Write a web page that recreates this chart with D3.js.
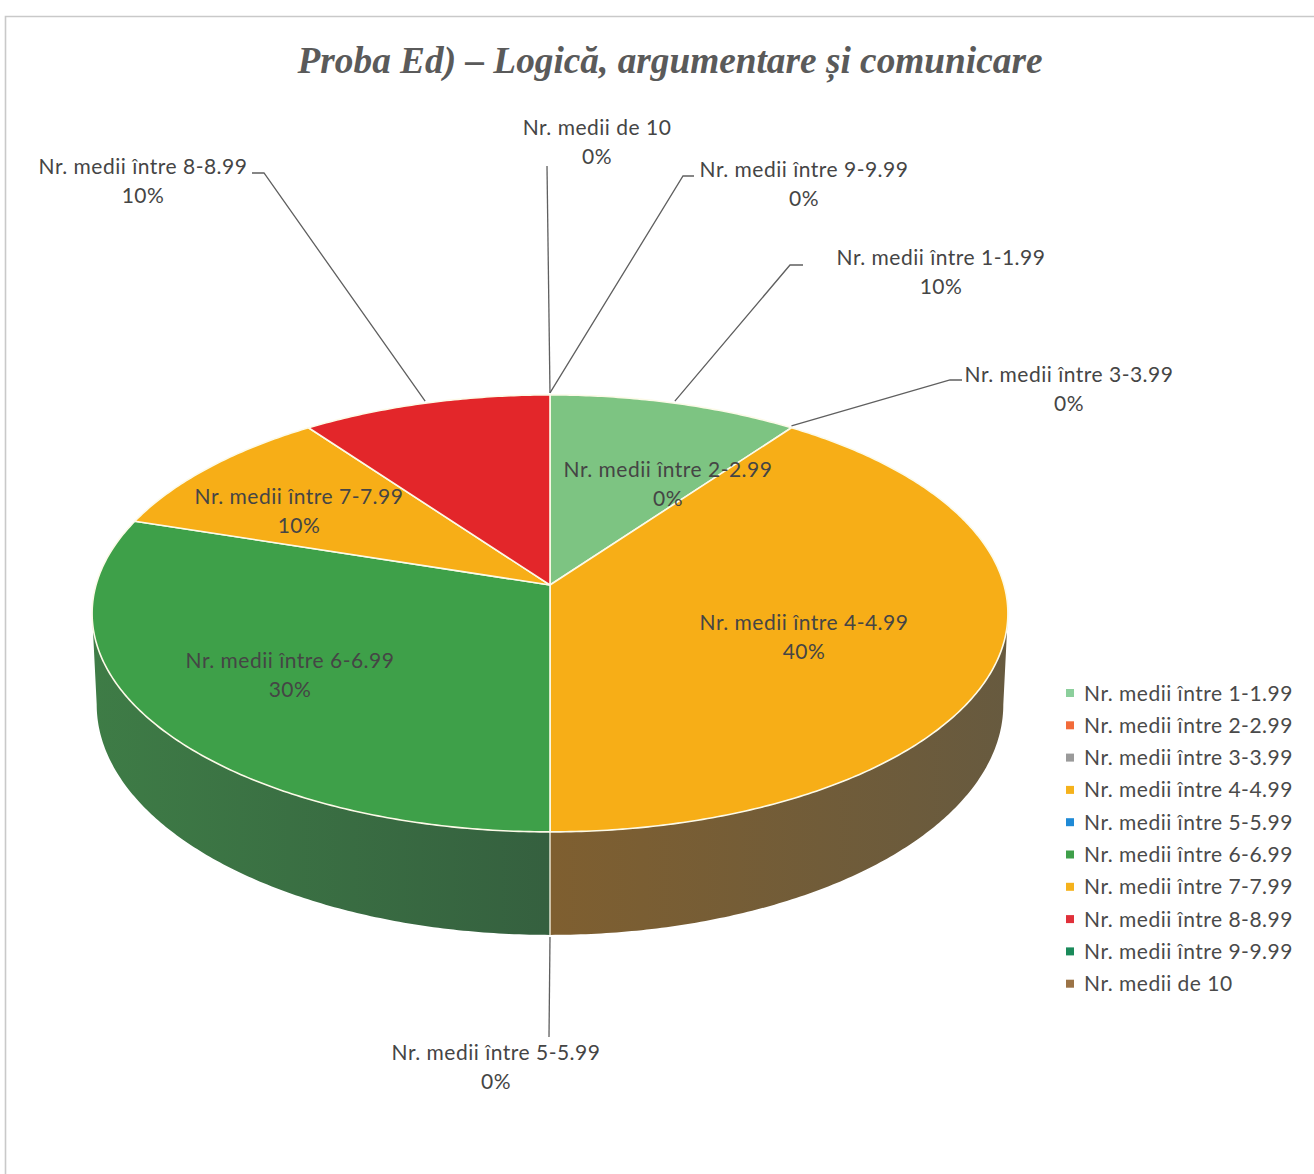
<!DOCTYPE html>
<html>
<head>
<meta charset="utf-8">
<script src="https://cdn.jsdelivr.net/npm/d3@7"></script>
<style>
  body { margin: 0; background: #fff; }
  svg { display: block; }
  .lbl { font-family: Lato, "Open Sans", sans-serif; font-size: 21px; letter-spacing: 0.5px; fill: #454545; }
  .legendText { font-family: Lato, "Open Sans", sans-serif; font-size: 21px; letter-spacing: 0.5px; fill: #4a4a4a; }
</style>
</head>
<body>
<svg id="svg-pie" width="1314" height="1174"></svg>
<script>
// data
var categories = ["Nr. medii între 1-1.99", "Nr. medii între 2-2.99", "Nr. medii între 3-3.99",
  "Nr. medii între 4-4.99", "Nr. medii între 5-5.99", "Nr. medii între 6-6.99",
  "Nr. medii între 7-7.99", "Nr. medii între 8-8.99", "Nr. medii între 9-9.99", "Nr. medii de 10"];
var percents = [10, 0, 0, 40, 0, 30, 10, 10, 0, 0];
var titleText = "Proba Ed) – Logică, argumentare și comunicare";

// styles
var sliceColors = ["#7dc482", "#f26b3a", "#9a9a9a", "#f7ae17", "#1f8ad6", "#3ea049", "#f7ae17", "#e3262a", "#1b8a5c", "#9b7346"];
var legendColors = ["#8ccf9c", "#f26b3a", "#9a9a9a", "#f5b21c", "#1f8ad6", "#3f9f4a", "#f5b21c", "#e0303a", "#1a8a5a", "#9b7346"];
// side walls (Excel paints the 4-4.99 wall brown)
var sideStops = { 3: ["#7f5f30", "#675a3f"], 5: ["#3e7c46", "#35603f"] };

// label layout: centre of the text block, optional leader polyline end (elbow, end)
var labelLayout = [
  { x: 941, y: 257, elbow: [790, 265], end: [803, 265] },
  { x: 668, y: 469 },
  { x: 1069, y: 374, elbow: [950, 380], end: [962, 380] },
  { x: 804, y: 622 },
  { x: 496, y: 1052, elbow: [549, 1037], end: [549, 1037], bottom: true },
  { x: 290, y: 660 },
  { x: 299, y: 496 },
  { x: 143, y: 166, elbow: [264, 173], end: [252, 173] },
  { x: 804, y: 169, elbow: [683, 176], end: [694, 176] },
  { x: 597, y: 127, elbow: [547, 166], end: [547, 166] }
];

var svg = d3.select("#svg-pie");

// pie geometry (perspective projection of a tilted disc)
var CX = 550, CY = 585, RX = 454, RY = 214.8, K = 0.13, DEPTH = 89.6, SHRINK = 0.99;
function proj(a, z) {
  var d = 1 + K * Math.cos(a);
  var s = z ? SHRINK : 1;
  return [CX + RX * Math.sin(a) / d * s, CY - RY * Math.cos(a) / d + z * DEPTH / d];
}
function angles(a0, a1) {
  var n = Math.max(2, Math.ceil((a1 - a0) / 0.01));
  return d3.range(n + 1).map(function(i) { return a0 + (a1 - a0) * i / n; });
}

var pie = d3.pie().sort(null).value(function(d) { return d; });
var arcs = pie(percents);
var line = d3.line();

// frame
svg.append("path")
   .attr("d", "M5.5,1174V16.5H1314")
   .attr("fill", "none")
   .attr("stroke", "#c9c9c9")
   .attr("stroke-width", 1.6);

// title
svg.append("text")
   .attr("x", 670)
   .attr("y", 73)
   .attr("text-anchor", "middle")
   .style("font-family", "'Liberation Serif', 'Times New Roman', serif")
   .style("font-weight", "bold")
   .style("font-style", "italic")
   .style("font-size", "37.3px")
   .style("fill", "#5a5a5a")
   .text(titleText);

// gradients for side walls
var defs = svg.append("defs");
Object.keys(sideStops).forEach(function(i) {
  var g = defs.append("linearGradient")
    .attr("id", "side" + i)
    .attr("x1", "0%").attr("x2", "100%").attr("y1", "0%").attr("y2", "0%");
  g.append("stop").attr("offset", "0%").attr("stop-color", sideStops[i][0]);
  g.append("stop").attr("offset", "100%").attr("stop-color", sideStops[i][1]);
});

// side walls (only the front part is visible)
var aMin = Math.acos(-K), aMax = 2 * Math.PI - aMin;
var sides = arcs.filter(function(d) {
  return d.value > 0 && d.endAngle > aMin && d.startAngle < aMax;
});
svg.selectAll(".side")
   .data(sides)
   .enter()
   .append("path")
   .attr("class", "side")
   .attr("d", function(d) {
     var a0 = Math.max(d.startAngle, aMin), a1 = Math.min(d.endAngle, aMax);
     var top = angles(a0, a1).map(function(a) { return proj(a, 0); });
     var bot = angles(a0, a1).reverse().map(function(a) { return proj(a, 1); });
     return line(top.concat(bot)) + "Z";
   })
   .attr("fill", function(d) { return sideStops[d.index] ? "url(#side" + d.index + ")" : d3.color(sliceColors[d.index]).darker(1); });

// wall seams
var seams = arcs.filter(function(d) {
  return d.value > 0 && d.startAngle > aMin && d.startAngle < aMax;
});
svg.selectAll(".seam")
   .data(seams)
   .enter()
   .append("path")
   .attr("class", "seam")
   .attr("d", function(d) { return line([proj(d.startAngle, 0), proj(d.startAngle, 1)]); })
   .attr("stroke", "#fbf8e6")
   .attr("stroke-width", 1.3);

// top face
svg.selectAll(".slice")
   .data(arcs.filter(function(d) { return d.value > 0; }))
   .enter()
   .append("path")
   .attr("class", "slice")
   .attr("d", function(d) {
     var pts = [[CX, CY]].concat(angles(d.startAngle, d.endAngle).map(function(a) { return proj(a, 0); }));
     return line(pts) + "Z";
   })
   .attr("fill", function(d) { return sliceColors[d.index]; })
   .attr("stroke", "#fcfae8")
   .attr("stroke-width", 1.6)
   .attr("stroke-linejoin", "round");

// leader lines
svg.selectAll(".leader")
   .data(arcs.filter(function(d) { return labelLayout[d.index].elbow; }))
   .enter()
   .append("path")
   .attr("class", "leader")
   .attr("d", function(d) {
     var L = labelLayout[d.index];
     var mid = (d.startAngle + d.endAngle) / 2;
     var start = L.bottom ? proj(mid, 1) : proj(mid, 0);
     start = [start[0], start[1] + (L.bottom ? 2 : -2)];
     return line([start, L.elbow, L.end]);
   })
   .attr("fill", "none")
   .attr("stroke", "#5f5f5f")
   .attr("stroke-width", 1.3);

// data labels
var labels = svg.selectAll(".lbl")
   .data(arcs)
   .enter()
   .append("text")
   .attr("class", "lbl")
   .attr("text-anchor", "middle");
labels.append("tspan")
   .attr("x", function(d) { return labelLayout[d.index].x; })
   .attr("y", function(d) { return labelLayout[d.index].y + 7.5; })
   .text(function(d) { return categories[d.index]; });
labels.append("tspan")
   .attr("x", function(d) { return labelLayout[d.index].x; })
   .attr("y", function(d) { return labelLayout[d.index].y + 37; })
   .text(function(d) { return d.value + "%"; });

// legend
var legend = svg.selectAll(".legendItem")
   .data(categories)
   .enter()
   .append("g")
   .attr("class", "legendItem")
   .attr("transform", function(d, i) { return "translate(1066," + (693 + i * 32.3) + ")"; });
legend.append("rect")
   .attr("x", 0).attr("y", -4)
   .attr("width", 8).attr("height", 8)
   .attr("fill", function(d, i) { return legendColors[i]; });
legend.append("text")
   .attr("class", "legendText")
   .attr("x", 18)
   .attr("y", 7.5)
   .text(function(d) { return d; });
</script>
</body>
</html>
